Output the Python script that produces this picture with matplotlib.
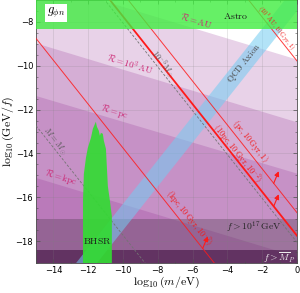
import numpy as np
import matplotlib
matplotlib.use("Agg")
import matplotlib.pyplot as plt
from matplotlib.patches import Polygon

plt.rcParams['mathtext.fontset'] = 'cm'
plt.rcParams['font.family'] = ['DejaVu Sans']

# ---- data ----
x_range = [-15, 0]
y_range = [-19, -7]
# purple radius bands: top boundary (value at x=-15, value at x=0)
band_names = [r"$\mathcal{R}=\mathrm{AU}$", r"$\mathcal{R}=10^3\,\mathrm{AU}$",
              r"$\mathcal{R}=\mathrm{pc}$", r"$\mathcal{R}=\mathrm{kpc}$"]
band_left = [-6.10, -8.96, -11.36, -15.10]
band_right = [-9.70, -12.56, -14.90, -18.70]
# red constraint lines y = c - x
red_names = [r"$(10^3\mathrm{AU},10\,\mathrm{Gyr},1)$", r"$(\mathrm{pc},10\,\mathrm{Gyr},1)$",
             r"$(10\mathrm{pc},10\,\mathrm{Gyr},10^{-2})$", r"$(\mathrm{kpc},10\,\mathrm{Gyr},10^{-2})$"]
red_offsets = [-9.78, -16.7, -17.75, -23.75]
red_widths = [0.7, 0.7, 1.3, 0.7]
# dashed mass lines y = c - x
mass_names = [r"$M=M_\odot$", r"$10^{-3}M_\odot$"]
mass_offsets = [-27.73, -18.05]
# QCD axion band edges y = x + c
qcd_upper = -6.3
qcd_lower = -7.5
# Astro (g_phi n) excluded region
astro_low = -8.3
# BHSR region outline (log m, log GeV/f)
bhsr_x = [-12.30, -12.30, -12.25, -12.13, -12.02, -11.84, -11.73, -11.56, -11.50, -11.39,
          -11.33, -11.27, -11.16, -11.10, -10.98, -10.93, -10.87, -10.75, -10.64, -10.64]
bhsr_y = [-19.0, -16.17, -14.94, -14.20, -13.74, -13.28, -12.87, -12.55, -12.78, -12.96,
          -13.19, -13.06, -13.10, -13.42, -13.79, -14.57, -15.49, -16.17, -16.86, -19.0]
# f bounds
f17 = -17.0
fMP = -18.38

fig = plt.figure(figsize=(3.0, 2.93), dpi=100)
ax = fig.add_axes([0.12, 0.102, 0.87, 0.898])
ax.set_xlim(*x_range)
ax.set_ylim(*y_range)

xs = np.linspace(-15, 0, 200)
purple = (0.55, 0.12, 0.55)
for yl, yr in zip(band_left, band_right):
    yy = yl + (yr - yl) * (xs + 15) / 15
    ax.fill_between(xs, yy, -19, color=purple, alpha=0.2, lw=0, zorder=1)

ax.axhspan(fMP, f17, color=(0.25, 0.2, 0.25), alpha=0.3, lw=0, zorder=1.1)
ax.axhspan(-19, fMP, color=(0.2, 0.05, 0.2), alpha=0.65, lw=0, zorder=1.2)

ax.grid(True, color='0.5', alpha=0.25, lw=0.5, zorder=1.3)

# QCD axion band
ax.fill_between(xs, xs + qcd_lower, xs + qcd_upper, color=(0.45, 0.8, 0.95), alpha=0.55, lw=0, zorder=2)

# red lines
for c, w in zip(red_offsets, red_widths):
    ax.plot(xs, c - xs, color=(1.0, 0.1, 0.1), lw=w, alpha=0.85 if w < 1 else 1.0, zorder=3)
# dashed mass lines
for c in mass_offsets:
    ax.plot(xs, c - xs, color='0.45', lw=0.6, ls=(0, (3, 2)), zorder=3)

# Astro region
ax.axhspan(astro_low, -7, color=(0.25, 0.93, 0.25), alpha=0.8, lw=0, zorder=4)
# BHSR region
ax.add_patch(Polygon(np.column_stack([bhsr_x, bhsr_y]), closed=True,
                     facecolor=(0.2, 0.86, 0.2), edgecolor='none', alpha=0.92, zorder=4))

# arrows on red lines
for c, xb in [(red_offsets[1], -1.34), (red_offsets[2], -1.34), (red_offsets[3], -5.42)]:
    ax.annotate("", xy=(xb + 0.29, c - xb + 0.55), xytext=(xb, c - xb),
                arrowprops=dict(arrowstyle='-|>', color=(1, 0.1, 0.1), lw=0.8,
                                mutation_scale=7, shrinkA=0, shrinkB=0), zorder=5)

# text
ang_band = -16.7
ang_line = -51.4
pink = (0.8, 0.15, 0.45)
band_label_pos = [(-5.8, -7.95), (-9.6, -9.95), (-10.5, -12.1), (-13.6, -15.1)]
for name, (bx, by) in zip(band_names, band_label_pos):
    ax.text(bx, by, name, color=pink, fontsize=6.5, rotation=ang_band,
            ha='center', va='center', rotation_mode='anchor', zorder=6)

red_label_pos = [(-1.2, -8.3), (-2.7, -13.45), (-3.45, -14.0), (-6.2, -16.95)]
red_sizes = [4.8, 6, 6, 6]
for name, (lx, ly), fs in zip(red_names, red_label_pos, red_sizes):
    ax.text(lx, ly, name, color=(0.95, 0.1, 0.1), fontsize=fs, rotation=ang_line,
            ha='center', va='center', rotation_mode='anchor', zorder=6)

mass_label_pos = [(-13.9, -13.45), (-7.7, -9.9)]
for name, (mx, my) in zip(mass_names, mass_label_pos):
    ax.text(mx, my, name, color='0.35', fontsize=6, rotation=ang_line,
            ha='center', va='center', rotation_mode='anchor', zorder=6)

ax.text(-3.0, -9.9, r"$\mathrm{QCD\ Axion}$", color='0.3', fontsize=6.5, rotation=51.4,
        ha='center', va='center', rotation_mode='anchor', zorder=6)
ax.text(-3.5, -7.75, r"$\mathrm{Astro}$", color='0.1', fontsize=7, ha='center', va='center', zorder=6)
ax.text(-11.45, -18.0, r"$\mathrm{BHSR}$", color='0.1', fontsize=7, ha='center', va='center', zorder=6)
ax.text(-2.5, -17.35, r"$f>10^{17}\,\mathrm{GeV}$", color='0.15', fontsize=7, ha='center', va='center', zorder=6)
ax.text(-1.0, -18.75, r"$f>\overline{M}_P$", color='0.92', fontsize=7, ha='center', va='center', zorder=6)
ax.text(-13.85, -7.6, r"$g_{\phi n}$", color='k', fontsize=9, ha='center', va='center', zorder=6,
        bbox=dict(boxstyle='square,pad=0.15', facecolor='white', edgecolor='none'))

ax.set_xticks([-14, -12, -10, -8, -6, -4, -2, 0])
ax.set_yticks([-8, -10, -12, -14, -16, -18])
ax.set_xticks(np.arange(-15, 0.1, 1), minor=True)
ax.set_yticks(np.arange(-19, -6.9, 0.5), minor=True)
ax.tick_params(which='both', direction='in', top=True, right=True, labelsize=6, color='0.3')
ax.tick_params(which='major', length=3, width=0.5, pad=2)
ax.tick_params(which='minor', length=1.5, width=0.4)
for s in ax.spines.values():
    s.set_linewidth(0.6)
    s.set_color('0.3')
ax.set_xlabel(r"$\log_{10}(m/\mathrm{eV})$", fontsize=8.5)
ax.set_ylabel(r"$\log_{10}(\mathrm{GeV}/f)$", fontsize=8.5)
ax.xaxis.set_label_coords(0.5, -0.045)
ax.yaxis.set_label_coords(-0.075, 0.5)

fig.savefig("out.png", dpi=100)
